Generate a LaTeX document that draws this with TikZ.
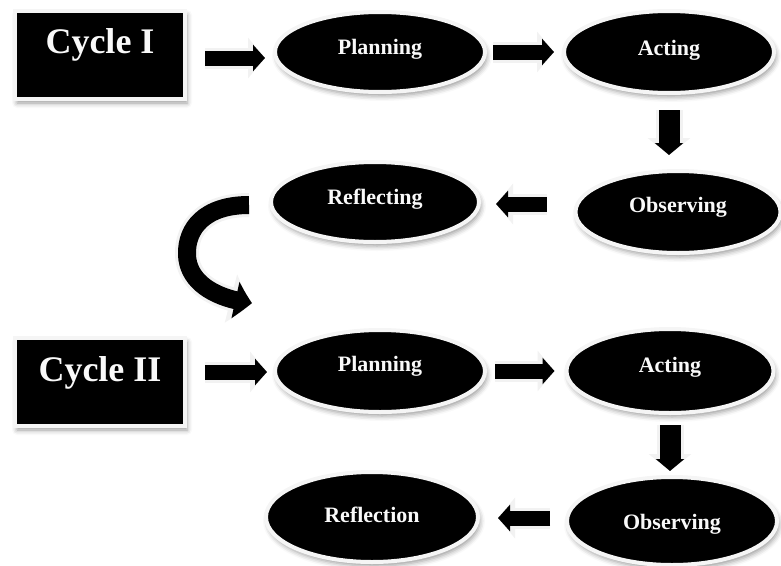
\documentclass[tikz,border=0pt]{standalone}
\usepackage{fontspec}
\setmainfont{Liberation Serif}
\usetikzlibrary{arrows.meta,bending,shapes.geometric,shadows.blur}
\begin{document}
\begin{tikzpicture}[x=1pt,y=-1pt,
  base/.style={fill=black,draw=gray!8,line width=4pt,text=gray!5,
    font=\bfseries,
    blur shadow={shadow xshift=2pt,shadow yshift=-4pt,shadow blur radius=5pt}},
  cyclebox/.style={base,rectangle,minimum width=170pt,minimum height=88pt,
    font=\fontsize{36}{40}\selectfont\bfseries,text height=24pt},
  stage/.style={base,ellipse,inner sep=0pt,
    font=\fontsize{22}{24}\selectfont\bfseries,text height=16pt},
  harrow/.style={line width=15pt,-{Triangle[length=12pt,width=26pt]},
    preaction={draw=gray!10,line width=21pt,-{Triangle[length=17pt,width=40pt]}}},
  varrow/.style={line width=21pt,-{Triangle[length=12pt,width=28pt]},
    preaction={draw=gray!10,line width=27pt,-{Triangle[length=17pt,width=42pt]}}},
  carrow/.style={line width=18pt,-{Triangle[length=17pt,width=36pt,bend]},
    preaction={draw=gray!10,line width=24pt,-{Triangle[length=22pt,width=48pt,bend]}}}
]
\useasboundingbox (0,0) rectangle (781,565);

% row 1
\node[cyclebox,text depth=28pt] (c1) at (100,55) {Cycle I};
\node[stage,minimum width=210pt,minimum height=80pt,text depth=11.6pt] (p1) at (380,52) {Planning};
\node[stage,minimum width=210pt,minimum height=82pt,text depth=9.6pt] (a1) at (669,52) {Acting};
% row 2
\node[stage,minimum width=205pt,minimum height=82pt,text depth=15.6pt] (o1) at (678,212) {Observing};
\node[stage,minimum width=208pt,minimum height=80pt,text depth=11.6pt] (r1) at (375,202) {Reflecting};
% row 3
\node[cyclebox,text depth=25pt] (c2) at (100,382) {Cycle II};
\node[stage,minimum width=210pt,minimum height=82pt,text depth=15.6pt] (p2) at (380,371) {Planning};
\node[stage,minimum width=207pt,minimum height=84pt,text depth=13.6pt] (a2) at (670,371) {Acting};
% row 4
\node[stage,minimum width=210pt,minimum height=88pt,text depth=0pt] (o2) at (672,521) {Observing};
\node[stage,minimum width=212pt,minimum height=90pt,text depth=5.6pt] (r2) at (372,517) {Reflection};

\coordinate (cend) at (252,303);

% connectors
\draw[harrow,shorten <=18pt,shorten >=8pt] ([yshift=-3pt]c1.east) -- ([yshift=-3pt]c1.east -| p1.west);
\draw[harrow,shorten <=6pt,shorten >=8pt] (p1.east) -- (a1.west);
\draw[varrow,shorten <=15pt,shorten >=14pt] (a1.south) -- (a1.south |- o1.north);
\draw[harrow,shorten <=27pt,shorten >=15pt] ([yshift=8pt]o1.west) -- ([yshift=8pt]o1.west -| r1.east);
\draw[carrow,shorten <=20pt] ([yshift=-3pt]r1.west) .. controls (205,205) and (186,228) .. (187,255)
      .. controls (188,282) and (215,299) .. (cend);
\draw[harrow,shorten <=18pt,shorten >=6pt] ([yshift=10pt]c2.east) -- ([yshift=10pt]c2.east -| p2.west);
\draw[harrow,shorten <=8pt,shorten >=10pt] (p2.east) -- (a2.west);
\draw[varrow,shorten <=10pt,shorten >=4pt] (a2.south) -- (a2.south |- o2.north);
\draw[harrow,shorten <=15pt,shorten >=18pt] ([yshift=3pt]o2.west) -- ([yshift=3pt]o2.west -| r2.east);
\end{tikzpicture}
\end{document}
